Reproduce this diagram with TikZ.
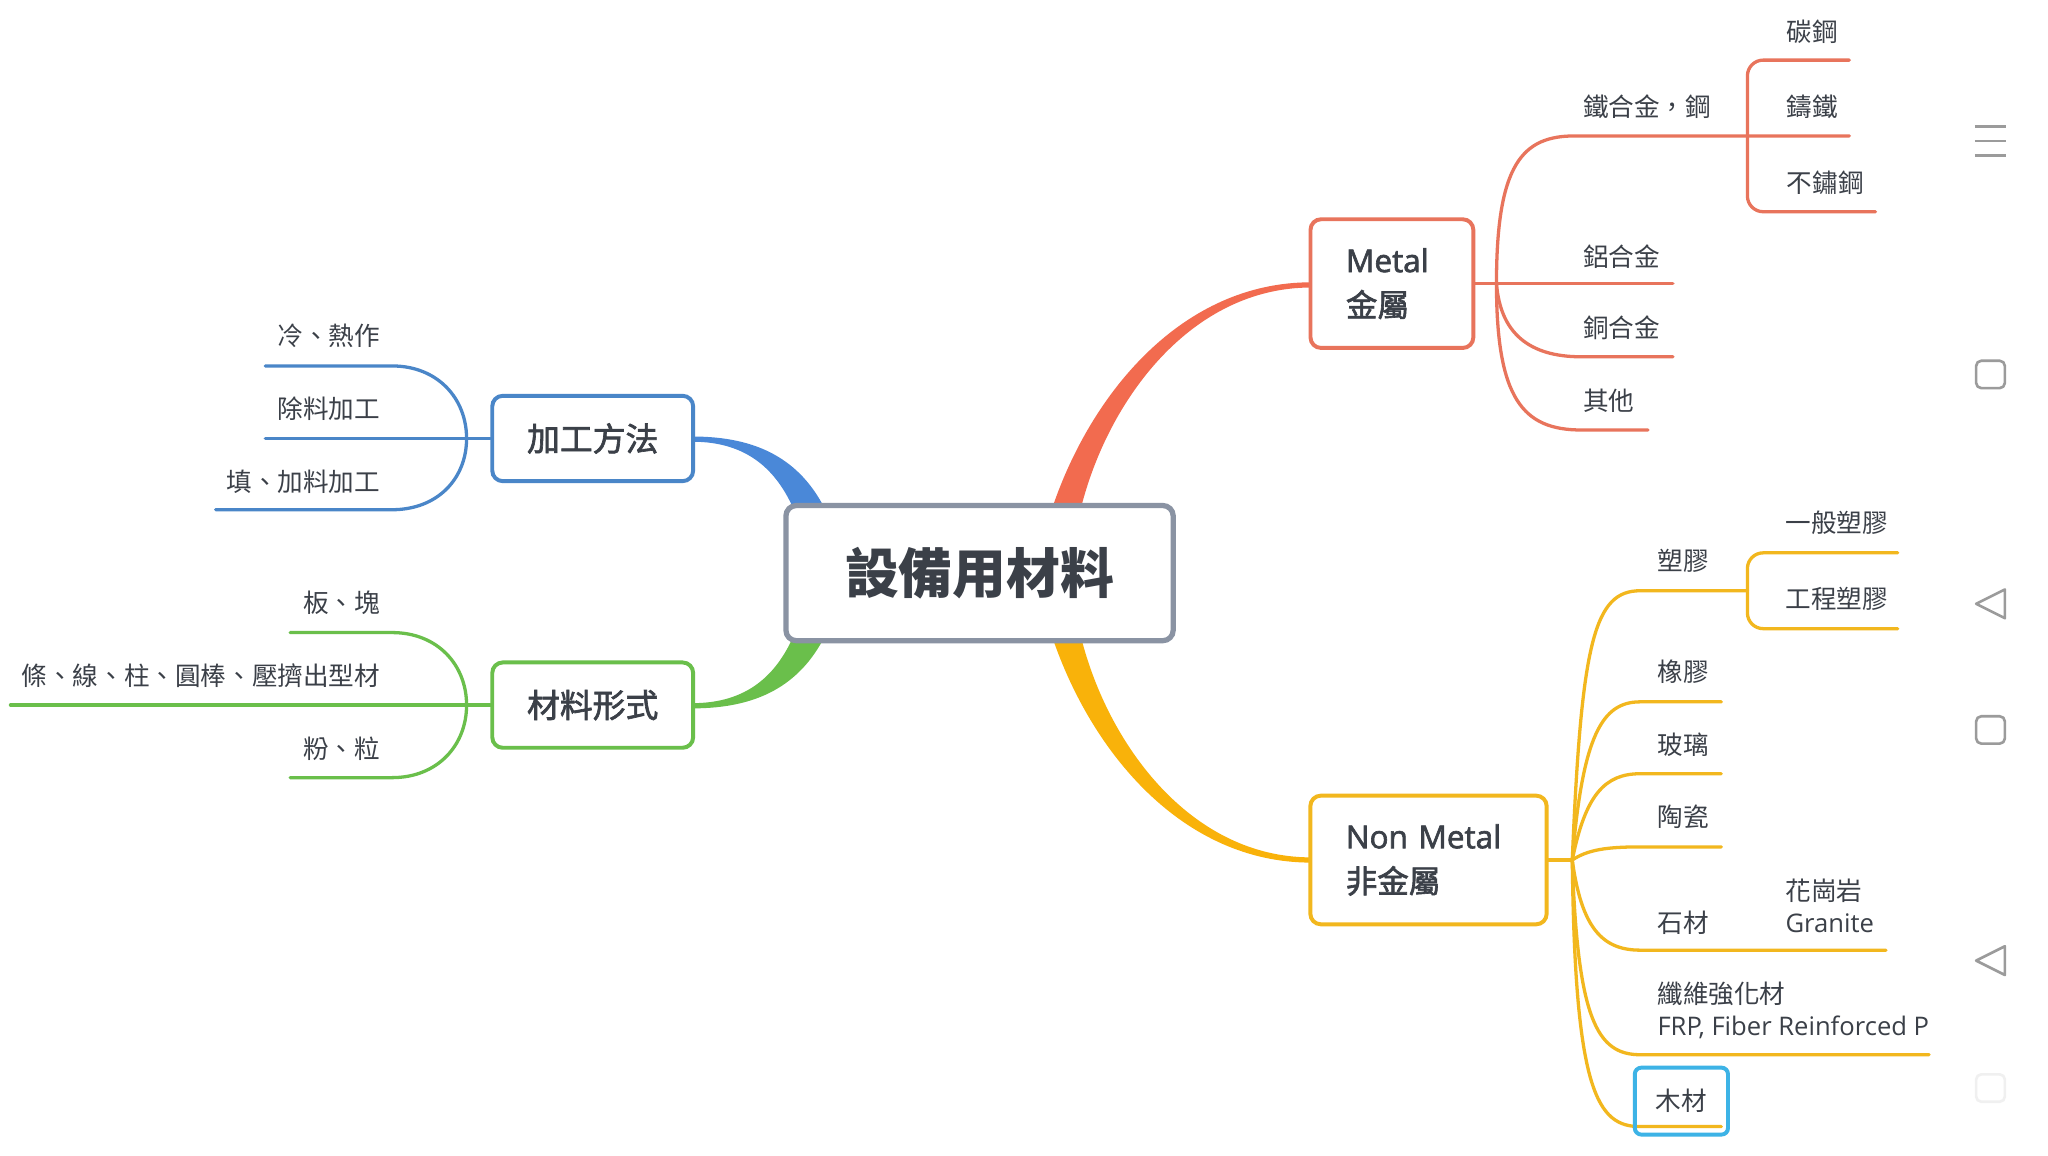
\documentclass[tikz,border=0pt]{standalone}
\usepackage{fontspec}
\setmainfont{Open Sans}
\newfontfamily\cjk{Noto Sans CJK TC}
\newfontfamily\cjkm[FakeBold=2]{Noto Sans CJK TC}
\newfontfamily\latm[FakeBold=2]{Open Sans}
\definecolor{cblue}{HTML}{4A86C8}
\definecolor{cbluem}{HTML}{4A88D8}
\definecolor{cgreen}{HTML}{6ABF4B}
\definecolor{cred}{HTML}{E8745C}
\definecolor{credm}{HTML}{F26B4F}
\definecolor{corange}{HTML}{F2B71E}
\definecolor{corangem}{HTML}{F9B20A}
\definecolor{cgray}{HTML}{8A93A3}
\definecolor{ctext}{HTML}{3B4048}
\definecolor{ccyan}{HTML}{3DB3E6}
\definecolor{cicon}{HTML}{9B9B9B}
\begin{document}
\begin{tikzpicture}[x=0.9955pt,y=-0.9955pt,
  box/.style={draw, rounded corners=8pt, line width=3pt, fill=white, text=ctext},
  leaf/.style={text=ctext, font=\cjk\fontsize{19.5}{24}\selectfont, inner sep=0pt},
  leafl/.style={leaf, anchor=east},
  leafr/.style={leaf, anchor=west, align=left},
  sub/.style={line width=2.5pt, line cap=round},
  icon/.style={draw=cicon, line width=2pt, line join=round}]
\useasboundingbox (0,0) rectangle (1567,884);
\fill[white] (0,0) rectangle (1567,884);

% main branches
\fill[cbluem] (530,334) .. controls (580,334) and (612,352) .. (631,389) -- (607,389) .. controls (594,360) and (572,338) .. (530,338) -- cycle;
\fill[cgreen] (530,542) .. controls (580,542) and (612,524) .. (631,487) -- (607,487) .. controls (594,516) and (572,538) .. (530,538) -- cycle;
\fill[credm] (805,389) .. controls (835,300) and (905,216) .. (1003,216) -- (1003,220) .. controls (912,220) and (848,305) .. (827,389) -- cycle;
\fill[corangem] (805,487) .. controls (835,576) and (905,660) .. (1003,660) -- (1003,656) .. controls (912,656) and (848,571) .. (827,487) -- cycle;

% boxes
\node[box, draw=cgray, line width=4pt, minimum width=295pt, minimum height=103pt, font=\cjk\bfseries\fontsize{41}{41}\selectfont] (root) at (749.5,438.5) {設備用材料};
\node[box, draw=cblue, minimum width=153pt, minimum height=65pt, font=\cjkm\fontsize{25}{25}\selectfont] (proc) at (453.5,335.5) {加工方法};
\node[box, draw=cgreen, minimum width=153pt, minimum height=65pt, font=\cjkm\fontsize{25}{25}\selectfont] (form) at (453.5,539.5) {材料形式};
\node[box, draw=cred, minimum height=98pt, align=left, text width=70pt, inner xsep=27pt, font=\latm\fontsize{24}{34}\selectfont] (metal) at (1065,217) {Metal\\{\cjkm 金屬}};
\node[box, draw=corange, minimum height=98pt, align=left, text width=126pt, inner xsep=27pt, font=\latm\fontsize{24}{34}\selectfont] (nonmetal) at (1093,658) {Non Metal\\{\cjkm 非金屬}};

% junctions
\coordinate (JB) at (357,335.5);
\coordinate (JG) at (357,539.5);
\coordinate (JM) at (1145,217);
\coordinate (JN) at (1203,658);
\coordinate (SM) at (1337,104);
\coordinate (SN) at (1337,452);

% blue leaves
\draw[sub, cblue] (proc.west) -- (JB);
\draw[sub, cblue] (203,280) -- (300,280) .. controls (335,280) and (357,305) .. (JB);
\draw[sub, cblue] (203,335.5) -- (JB);
\draw[sub, cblue] (165,390) -- (300,390) .. controls (335,390) and (357,366) .. (JB);
\node[leafl] (l1) at (291,257) {冷、熱作};
\node[leafl] (l2) at (291,313) {除料加工};
\node[leafl] (l3) at (291,369) {填、加料加工};

% green leaves
\draw[sub, cgreen] (form.west) -- (JG);
\draw[sub, cgreen] (222,484) -- (300,484) .. controls (335,484) and (357,509) .. (JG);
\draw[sub, cgreen] (8,539.5) -- (JG);
\draw[sub, cgreen] (222,595) -- (300,595) .. controls (335,595) and (357,570) .. (JG);
\node[leafl] (g1) at (291,461) {板、塊};
\node[leafl] (g2) at (291,517) {條、線、柱、圓棒、壓擠出型材};
\node[leafl] (g3) at (291,573) {粉、粒};

% metal leaves
\draw[sub, cred] (metal.east) -- (JM);
\draw[sub, cred] (JM) .. controls (1145,125) and (1165,104) .. (1205,104) -- (SM) -- (1415,104);
\draw[sub, cred, rounded corners=12pt] (1415,46) -- (1337,46) -- (1337,162) -- (1435,162);
\draw[sub, cred] (JM) -- (1280,217);
\draw[sub, cred] (JM) .. controls (1148,255) and (1170,273) .. (1210,273) -- (1280,273);
\draw[sub, cred] (JM) .. controls (1145,305) and (1165,329) .. (1210,329) -- (1261,329);
\node[leafr] (m1) at (1211,82) {鐵合金，鋼};
\node[leafr] (m11) at (1367,24) {碳鋼};
\node[leafr] (m12) at (1367,82) {鑄鐵};
\node[leafr] (m13) at (1367,140) {不鏽鋼};
\node[leafr] (m2) at (1211,196) {鋁合金};
\node[leafr] (m3) at (1211,251) {銅合金};
\node[leafr] (m4) at (1211,307) {其他};

% non metal leaves
\draw[sub, corange] (nonmetal.east) -- (JN);
\draw[sub, corange] (JN) .. controls (1210,490) and (1220,452) .. (1255,452) -- (SN);
\draw[sub, corange, rounded corners=12pt] (1452,423) -- (1337,423) -- (1337,481) -- (1452,481);
\draw[sub, corange] (JN) .. controls (1211,562) and (1226,537) .. (1255,537) -- (1317,537);
\draw[sub, corange] (JN) .. controls (1213,608) and (1228,592) .. (1255,592) -- (1317,592);
\draw[sub, corange] (JN) .. controls (1215,650) and (1230,648) .. (1255,648) -- (1317,648);
\draw[sub, corange] (JN) .. controls (1210,710) and (1226,727) .. (1255,727) -- (1443,727);
\draw[sub, corange] (JN) .. controls (1207,780) and (1222,807) .. (1255,807) -- (1476,807);
\draw[sub, corange] (JN) .. controls (1205,835) and (1222,862) .. (1255,862) -- (1317,862);
\node[leafr] (n1) at (1268,429) {塑膠};
\node[leafr] (n11) at (1366,400) {一般塑膠};
\node[leafr] (n12) at (1366,458) {工程塑膠};
\node[leafr] (n2) at (1268,514) {橡膠};
\node[leafr] (n3) at (1268,570) {玻璃};
\node[leafr] (n4) at (1268,625) {陶瓷};
\node[leafr] (n5) at (1268,706) {石材};
\node[leafr] (n51) at (1366,693) {花崗岩\\{\fontspec{Open Sans}Granite}};
\node[leafr] (n6) at (1268,773) {纖維強化材\\{\fontspec{Open Sans}FRP, Fiber Reinforced P}};
\node[draw=ccyan, line width=3pt, rounded corners=5pt, minimum width=71pt, minimum height=51pt, text=ctext, font=\cjk\fontsize{19.5}{24}\selectfont] (n7) at (1286.5,842.5) {木材};

% side icons
\draw[icon] (1511,97) -- (1535,97) (1511,108) -- (1535,108) (1511,119) -- (1535,119);
\draw[icon, rounded corners=4pt] (1512,276) rectangle (1534,297);
\draw[icon] (1512,462) -- (1534,451) -- (1534,473) -- cycle;
\draw[icon, rounded corners=4pt] (1512,548) rectangle (1534,569);
\draw[icon] (1512,735) -- (1534,724) -- (1534,746) -- cycle;
\draw[icon, draw=black!6, rounded corners=4pt] (1512,822) rectangle (1534,843);
\end{tikzpicture}
\end{document}
